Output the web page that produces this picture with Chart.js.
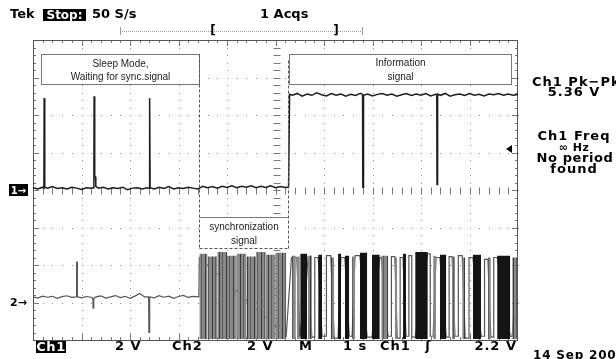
<!DOCTYPE html>
<html lang="en">
<head>
<meta charset="UTF-8" />
<title>Tek capture - sync signal</title>
<script src="https://cdn.jsdelivr.net/npm/chart.js"></script>
<style>
  html, body { margin: 0; padding: 0; background: #fff; }
  #scope { display: block; }
</style>
</head>
<body>
<canvas id="scope" width="616" height="359"></canvas>
<script>
// ---- data (time in s, 1 s/div; volts, 2 V/div) ----
var ch1Time = [0, 0.1, 0.2, 0.225, 0.23, 0.24, 0.245, 0.3, 0.4, 0.5, 0.6, 0.7, 0.8, 0.9, 1.0, 1.1, 1.2,
  1.255, 1.26, 1.27, 1.275, 1.29, 1.295, 1.35, 1.45, 1.55, 1.65, 1.75, 1.85, 1.95, 2.05, 2.15, 2.25, 2.35,
  2.395, 2.4, 2.41, 2.415, 2.5, 2.6, 2.7, 2.8, 2.9, 3.0, 3.1, 3.2, 3.3, 3.4, 3.5, 3.6, 3.7, 3.8, 3.9, 4.0,
  4.1, 4.2, 4.3, 4.4, 4.5, 4.6, 4.7, 4.8, 4.9, 5.0, 5.1, 5.2, 5.27, 5.29, 5.35, 5.45, 5.55, 5.65, 5.75,
  5.85, 5.95, 6.05, 6.15, 6.25, 6.35, 6.45, 6.55, 6.65, 6.75, 6.795, 6.8, 6.81, 6.815, 6.9, 7.0, 7.1, 7.2,
  7.3, 7.4, 7.5, 7.6, 7.7, 7.8, 7.9, 8.0, 8.1, 8.2, 8.3, 8.325, 8.33, 8.34, 8.345, 8.4, 8.5, 8.6, 8.7, 8.8,
  8.9, 9.0, 9.1, 9.2, 9.3, 9.4, 9.5, 9.6, 9.7, 9.8, 9.9, 10];
var ch1Volts = [0.12, 0.05, 0.15, 0.10, 4.90, 4.90, 0.15, 0.10, 0.18, 0.08, 0.12, 0.05, 0.14, 0.10, 0.03, 0.12, 0.10,
  0.12, 5.00, 5.00, 0.70, 0.70, 0.20, 0.10, 0.15, 0.05, 0.12, 0.08, 0.15, 0.02, 0.10, 0.12, 0.06, 0.12,
  0.10, 4.90, 4.90, 0.12, 0.05, 0.15, 0.08, 0.18, 0.06, 0.12, 0.08, 0.14, 0.10, 0.05, 0.20, 0.12, 0.18, 0.10, 0.20, 0.14,
  0.22, 0.12, 0.20, 0.15, 0.22, 0.12, 0.20, 0.14, 0.22, 0.12, 0.18, 0.14, 0.16, 5.10, 5.05, 5.15, 5.00, 5.12, 5.05,
  5.18, 5.08, 5.02, 5.14, 5.05, 5.12, 5.00, 5.10, 5.04, 5.16, 5.10, 0.15, 0.15, 5.05, 5.12, 5.02, 5.10, 5.14,
  5.05, 5.12, 5.00, 5.08, 5.15, 5.04, 5.12, 5.06, 5.14, 5.02, 5.10, 5.08, 0.30, 0.30, 5.12, 5.05, 5.15, 5.00, 5.08, 5.12,
  5.04, 5.14, 5.06, 5.10, 5.02, 5.12, 5.08, 5.15, 5.05, 5.12, 5.06, 5.10];

var ch2Time = [0, 0.1, 0.2, 0.3, 0.4, 0.5, 0.6, 0.7, 0.8, 0.895, 0.9, 0.91, 0.915, 1.0, 1.1, 1.2, 1.235, 1.24, 1.25,
  1.255, 1.3, 1.4, 1.5, 1.6, 1.7, 1.8, 1.9, 2.0, 2.1, 2.2, 2.3, 2.385, 2.39, 2.4, 2.405, 2.5, 2.6, 2.7, 2.8, 2.9,
  3.0, 3.1, 3.2, 3.3, 3.42, 3.43, 5.22, 5.33,
  5.42, 5.44, 5.50, 5.51, 5.65, 5.67, 5.75, 5.81, 5.81, 5.88, 5.96, 6.05, 6.05, 6.14, 6.21, 6.29, 6.35, 6.43,
  6.52, 6.58, 6.64, 6.74, 6.89, 6.99, 7.15, 7.18, 7.32, 7.39, 7.39, 7.46, 7.51, 7.57, 7.57, 7.63, 7.69, 7.75,
  7.75, 7.81, 7.81, 7.88, 8.14, 8.19, 8.19, 8.25, 8.31, 8.39, 8.52, 8.58, 8.58, 8.64, 8.70, 8.77, 8.77, 8.85,
  8.91, 8.99, 8.99, 9.07, 9.24, 9.31, 9.31, 9.38, 9.44, 9.50, 9.50, 9.57, 9.84, 9.88, 9.98, 10];
var ch2Volts = [0.30, 0.24, 0.34, 0.28, 0.33, 0.22, 0.31, 0.36, 0.27, 0.30, 2.15, 2.15, 0.30, 0.25, 0.32, 0.28, 0.22, -0.30, -0.30,
  0.20, 0.30, 0.35, 0.24, 0.30, 0.37, 0.26, 0.33, 0.22, 0.34, 0.48, 0.30, 0.30, -1.60, -1.60, 0.30, 0.25, 0.36, 0.28, 0.34, 0.22,
  0.32, 0.38, 0.27, 0.33, 0.30, 2.40, -1.80, 2.40,
  2.40, 2.40, -1.80, -1.80, 2.45, 2.45, -1.85, -1.85, 2.40, 2.40, -1.80, -1.80, 2.50, 2.50, -1.90, -1.90, 2.40, 2.40,
  -1.80, -1.80, 2.50, 2.50, -1.85, -1.85, 2.40, 2.40, -1.80, -1.80, 2.45, 2.45, -1.90, -1.90, 2.40, 2.40, -1.80, -1.80,
  2.50, 2.50, -1.85, -1.85, 2.60, 2.60, -1.80, -1.80, 2.40, 2.40, -1.85, -1.85, 2.45, 2.45, -1.80, -1.80, 2.50, 2.50,
  -1.90, -1.90, 2.40, 2.40, -1.80, -1.80, 2.30, 2.30, -1.85, -1.85, 2.40, 2.40, -1.80, -1.80, 2.20, 2.20];

// dense bursts of the sync signal (too fast to resolve on screen)
var burstStart = [3.43, 3.60, 3.80, 4.00, 4.20, 4.40, 4.60, 4.80, 5.00, 5.34, 5.44, 5.51, 5.67, 5.88, 6.14, 6.29,
  6.43, 6.58, 6.74, 6.99, 7.18, 7.46, 7.63, 7.88, 8.25, 8.39, 8.64, 8.85, 9.07, 9.38, 9.57, 9.88];
var burstEnd = [3.60, 3.80, 4.00, 4.20, 4.40, 4.60, 4.80, 5.00, 5.22, 5.42, 5.50, 5.65, 5.75, 5.96, 6.21, 6.35,
  6.52, 6.64, 6.89, 7.15, 7.32, 7.51, 7.69, 8.14, 8.31, 8.52, 8.70, 8.91, 9.24, 9.44, 9.84, 9.98];
var burstTop = [2.60, 2.45, 2.70, 2.50, 2.60, 2.45, 2.70, 2.55, 2.65, 2.50, 2.45, 2.60, 2.50, 2.55, 2.40, 2.60,
  2.50, 2.45, 2.65, 2.55, 2.50, 2.40, 2.60, 2.70, 2.50, 2.55, 2.45, 2.40, 2.55, 2.40, 2.50, 2.40];
var burstShade = ['g', 'g', 'g', 'g', 'g', 'g', 'g', 'g', 'g', 'g', 'g', 'k', 'g', 'k', 'g', 'k',
  'k', 'g', 'k', 'k', 'g', 'g', 'k', 'k', 'g', 'k', 'g', 'g', 'k', 'g', 'k', 'g'];
var burstBottom = -1.95;

var trigLevel = 2.2;

// ---- build datasets ----
function pts(t, v) {
  var out = [];
  for (var i = 0; i < t.length; i++) out.push({ x: t[i], y: v[i] });
  return out;
}
function bursts(shade) {
  var out = [];
  for (var i = 0; i < burstStart.length; i++) {
    if (burstShade[i] !== shade) continue;
    out.push({ x: burstStart[i], y: burstTop[i] });
    out.push({ x: burstEnd[i], y: burstTop[i] });
    out.push({ x: burstEnd[i], y: null });
  }
  return out;
}

// streaky grey like the unresolved edges on the scope screen
function streaks() {
  var c = document.createElement('canvas');
  c.width = 7; c.height = 1;
  var g = c.getContext('2d');
  g.fillStyle = '#888'; g.fillRect(0, 0, 7, 1);
  g.fillStyle = '#3c3c3c'; g.fillRect(2, 0, 1, 1);
  g.fillStyle = '#5c5c5c'; g.fillRect(5, 0, 1, 1);
  return g.createPattern(c, 'repeat');
}

// ---- screen furniture ----
function txt(ctx, s, x, y, font, color, align, spacing) {
  ctx.font = font;
  ctx.fillStyle = color || '#000';
  ctx.textAlign = align || 'left';
  ctx.textBaseline = 'middle';
  if ('letterSpacing' in ctx) ctx.letterSpacing = (spacing || 0) + 'px';
  ctx.fillText(s, x, y);
  if ('letterSpacing' in ctx) ctx.letterSpacing = '0px';
}
function inverse(ctx, s, x0, x1, y0, y1, font, spacing) {
  ctx.fillStyle = '#000';
  ctx.fillRect(x0, y0, x1 - x0, y1 - y0);
  txt(ctx, s, (x0 + x1) / 2, (y0 + y1) / 2 + 1, font, '#fff', 'center', spacing);
}

const graticule = {
  id: 'graticule',
  beforeDatasetsDraw(chart) {
    const ctx = chart.ctx, a = chart.chartArea;
    const dx = (a.right - a.left) / 10, dy = (a.bottom - a.top) / 8;
    ctx.save();
    ctx.fillStyle = '#8c8c8c';
    for (let i = 1; i < 10; i++) {
      const x = Math.round(a.left + i * dx);
      for (let j = 0; j <= 40; j++) ctx.fillRect(x, Math.round(a.top + j * dy / 5), 1, 1);
    }
    for (let j = 1; j < 8; j++) {
      const y = Math.round(a.top + j * dy);
      for (let i = 0; i <= 50; i++) ctx.fillRect(Math.round(a.left + i * dx / 5), y, 1, 1);
    }
    ctx.strokeStyle = '#777';
    ctx.lineWidth = 1;
    ctx.beginPath();
    const cx = Math.round(a.left + 5 * dx) + 0.5, cy = Math.round(a.top + 4 * dy) + 0.5;
    for (let j = 1; j < 40; j++) {
      const y = Math.round(a.top + j * dy / 5) + 0.5;
      ctx.moveTo(cx - 3, y); ctx.lineTo(cx + 4, y);
      const len = j % 5 === 0 ? 6 : 3;
      ctx.moveTo(a.left, y); ctx.lineTo(a.left + len, y);
      ctx.moveTo(a.right - len, y); ctx.lineTo(a.right, y);
    }
    for (let i = 1; i < 50; i++) {
      const x = Math.round(a.left + i * dx / 5) + 0.5;
      ctx.moveTo(x, cy - 3); ctx.lineTo(x, cy + 4);
      const len = i % 5 === 0 ? 6 : 3;
      ctx.moveTo(x, a.top); ctx.lineTo(x, a.top + len);
      ctx.moveTo(x, a.bottom - len); ctx.lineTo(x, a.bottom);
    }
    ctx.stroke();
    ctx.strokeStyle = '#555';
    ctx.strokeRect(a.left + 0.5, a.top + 0.5, a.right - a.left - 1, a.bottom - a.top);
    ctx.restore();
  }
};

const notes = {
  id: 'notes',
  afterDatasetsDraw(chart) {
    const ctx = chart.ctx;
    const X = chart.scales.x, Y = chart.scales.y, Y2 = chart.scales.y2;
    const px = t => Math.round(X.getPixelForValue(t)) + 0.5;
    const py = v => Math.round(Y.getPixelForValue(v)) + 0.5;
    ctx.save();
    ctx.strokeStyle = '#777';
    ctx.lineWidth = 1;
    // sleep / information boxes
    const boxTop = py(7.25), boxBot = py(5.65);
    [[0.165, 3.43], [5.28, 9.86]].forEach(function (b) {
      ctx.fillStyle = '#fff';
      ctx.fillRect(px(b[0]), boxTop, px(b[1]) - px(b[0]), boxBot - boxTop);
      ctx.strokeRect(px(b[0]), boxTop, px(b[1]) - px(b[0]), boxBot - boxTop);
    });
    const f = '10px "Liberation Sans", Arial, sans-serif';
    txt(ctx, 'Sleep Mode,', (px(0.165) + px(3.43)) / 2, boxTop + 10, f, '#222', 'center');
    txt(ctx, 'Waiting for sync.signal', (px(0.165) + px(3.43)) / 2, boxTop + 23, f, '#222', 'center');
    txt(ctx, 'Information', (px(5.28) + px(9.86)) / 2, boxTop + 9, f, '#222', 'center');
    txt(ctx, 'signal', (px(5.28) + px(9.86)) / 2, boxTop + 23, f, '#222', 'center');
    // synchronization box with dashed guides
    const sTop = py(-1.44), sBot = py(-3.09), sL = px(3.42), sR = px(5.26);
    ctx.fillStyle = '#fff';
    ctx.fillRect(sL, sTop, sR - sL, sBot - sTop);
    ctx.beginPath();
    ctx.moveTo(sL, sTop); ctx.lineTo(sR, sTop);
    ctx.stroke();
    ctx.setLineDash([3, 2]);
    ctx.strokeStyle = '#555';
    ctx.beginPath();
    ctx.moveTo(sL, boxTop); ctx.lineTo(sL, sBot);
    ctx.moveTo(sR, boxTop + 6); ctx.lineTo(sR, sBot);
    ctx.moveTo(sL, sBot); ctx.lineTo(sR, sBot);
    ctx.stroke();
    ctx.setLineDash([]);
    txt(ctx, 'synchronization', (sL + sR) / 2, sTop + 10, f, '#222', 'center');
    txt(ctx, 'signal', (sL + sR) / 2, sTop + 24, f, '#222', 'center');

    // header
    const bold = 'bold 13px "DejaVu Sans", sans-serif';
    txt(ctx, 'Tek', 10, 15, bold);
    inverse(ctx, 'Stop:', 43, 86, 9, 21, 'bold 12px "DejaVu Sans", sans-serif');
    txt(ctx, '50 S/s', 92, 15, bold);
    txt(ctx, '1 Acqs', 260, 15, bold);
    // record position bar
    ctx.fillStyle = '#999';
    for (let x = 120; x <= 362; x += 2) ctx.fillRect(x, 31, 1, 1);
    ctx.fillRect(120, 27, 1, 8);
    ctx.fillRect(362, 27, 1, 8);
    txt(ctx, '[', 213, 31, 'bold 12px "DejaVu Sans", sans-serif', '#000', 'center');
    txt(ctx, ']', 336, 31, 'bold 12px "DejaVu Sans", sans-serif', '#000', 'center');

    // ground markers and trigger level
    const g1 = Math.round(Y.getPixelForValue(0));
    inverse(ctx, '1\u2192', 9, 28, g1 - 6, g1 + 6, 'bold 10px "DejaVu Sans", sans-serif');
    const g2 = Math.round(Y2.getPixelForValue(0));
    txt(ctx, '2\u2192', 10, g2, 'bold 11px "DejaVu Sans", sans-serif');
    const tl = Math.round(Y.getPixelForValue(trigLevel));
    ctx.fillStyle = '#000';
    ctx.beginPath();
    ctx.moveTo(506, tl); ctx.lineTo(512, tl - 4); ctx.lineTo(512, tl + 4); ctx.closePath();
    ctx.fill();

    // measurement readouts
    const m = 'bold 13px "DejaVu Sans", sans-serif';
    txt(ctx, 'Ch1 Pk\u2212Pk', 532, 83, m, '#000', 'left', 1);
    txt(ctx, '5.36 V', 574, 93, m, '#000', 'center', 1);
    txt(ctx, 'Ch1 Freq', 574, 137, m, '#000', 'center', 1);
    txt(ctx, '\u221e Hz', 574, 148, 'bold 11px "DejaVu Sans", sans-serif', '#000', 'center', 0.5);
    txt(ctx, 'No period', 575, 159, m, '#000', 'center', 0.6);
    txt(ctx, 'found', 574, 170, m, '#000', 'center', 1);

    // bottom status line
    const by = 347;
    inverse(ctx, 'Ch1', 36, 66, 341, 353, bold, 0.5);
    txt(ctx, '2 V', 115, by, bold, '#000', 'left', 1);
    txt(ctx, 'Ch2', 172, by, bold, '#000', 'left', 1);
    txt(ctx, '2 V', 247, by, bold, '#000', 'left', 1);
    txt(ctx, 'M', 299, by, bold, '#000', 'left', 1);
    txt(ctx, '1 s', 343, by, bold, '#000', 'left', 1);
    txt(ctx, 'Ch1', 380, by, bold, '#000', 'left', 1);
    txt(ctx, '\u0283', 428, by, bold, '#000', 'center');
    txt(ctx, '2.2 V', 517, by, bold, '#000', 'right', 1);
    txt(ctx, '14 Sep 2006', 533, 356, 'bold 12px "DejaVu Sans", sans-serif', '#000', 'left', 0.8);
    ctx.restore();
  }
};

const config = {
  type: 'line',
  data: {
    datasets: [
      {
        label: 'bursts dark',
        data: bursts('k'),
        yAxisID: 'y2',
        borderWidth: 0,
        backgroundColor: '#141414',
        fill: { value: burstBottom },
        stepped: true,
        pointRadius: 0,
        order: 1
      },
      {
        label: 'bursts grey',
        data: bursts('g'),
        yAxisID: 'y2',
        borderWidth: 0,
        backgroundColor: streaks(),
        fill: { value: burstBottom },
        stepped: true,
        pointRadius: 0,
        order: 2
      },
      {
        label: 'Ch1',
        data: pts(ch1Time, ch1Volts),
        yAxisID: 'y',
        borderColor: '#1e1e1e',
        borderWidth: 1.5,
        pointRadius: 0,
        tension: 0,
        fill: false,
        order: 3
      },
      {
        label: 'Ch2',
        data: pts(ch2Time, ch2Volts),
        yAxisID: 'y2',
        borderColor: '#555',
        borderWidth: 1.2,
        pointRadius: 0,
        tension: 0,
        fill: false,
        order: 4
      }
    ]
  },
  options: {
    responsive: false,
    devicePixelRatio: 1,
    animation: false,
    spanGaps: false,
    layout: { padding: { left: 33, top: 40, right: 98, bottom: 19 } },
    plugins: { legend: { display: false }, tooltip: { enabled: false } },
    scales: {
      x: { type: 'linear', min: 0, max: 10, display: false },
      y: { min: -8, max: 8, display: false },
      y2: { min: -2, max: 14, display: false }
    }
  },
  plugins: [graticule, notes]
};

new Chart(document.getElementById('scope'), config);
</script>
</body>
</html>
